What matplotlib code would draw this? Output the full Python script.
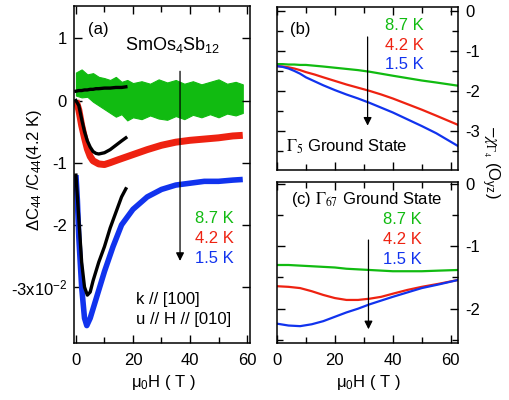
import matplotlib
matplotlib.use("Agg")
import matplotlib.pyplot as plt
import numpy as np
from matplotlib.ticker import MultipleLocator, FixedLocator, FixedFormatter

plt.rcParams['font.family'] = ['Liberation Sans', 'DejaVu Sans']
plt.rcParams['mathtext.fontset'] = 'custom'
plt.rcParams['mathtext.rm'] = 'Liberation Sans'
plt.rcParams['mathtext.it'] = 'Liberation Sans:italic'
plt.rcParams['mathtext.bf'] = 'Liberation Sans:bold'
plt.rcParams['font.size'] = 12

GREEN = '#11bb11'
RED = '#ee2211'
BLUE = '#1133ee'

# ---------------- panel (a): measured Delta C44 / C44 (x 1e-2) ----------------
a_green_H = [0, 2, 4, 6, 8, 10, 12, 14, 16, 18, 20, 23, 26, 29, 32, 35, 38, 41,
             44, 47, 50, 53, 56, 58.5]
a_green_hi = [0.45, 0.5, 0.42, 0.44, 0.38, 0.36, 0.33, 0.38, 0.3, 0.33, 0.28, 0.31,
              0.27, 0.34, 0.29, 0.33, 0.27, 0.31, 0.26, 0.3, 0.34, 0.27, 0.3, 0.26]
a_green_lo = [0.08, 0.05, 0.06, -0.02, -0.08, -0.14, -0.2, -0.26, -0.22, -0.32, -0.27,
              -0.3, -0.24, -0.29, -0.31, -0.25, -0.3, -0.23, -0.27, -0.22, -0.27, -0.21,
              -0.24, -0.2]

a_red_H = [0, 1, 2, 3, 4, 5, 6, 8, 10, 12, 15, 20, 25, 30, 35, 40, 45, 50, 55, 58.5]
a_red = [0.0, -0.15, -0.4, -0.6, -0.78, -0.9, -0.97, -1.02, -1.03, -1.0, -0.95,
         -0.87, -0.79, -0.72, -0.67, -0.64, -0.62, -0.6, -0.57, -0.56]

a_blue_H = [0, 0.5, 1, 2, 3, 3.8, 5, 7, 10, 13, 16, 20, 25, 30, 35, 40, 45, 50, 55, 58.5]
a_blue = [-1.2, -1.6, -2.2, -3.0, -3.5, -3.62, -3.5, -3.2, -2.75, -2.35, -2.0,
          -1.75, -1.55, -1.43, -1.36, -1.33, -1.3, -1.3, -1.28, -1.27]

fit_H = [0, 1, 2, 3, 4, 5, 6, 7, 8, 10, 12, 14, 16, 17.5]
fit_green = [0.15, 0.16, 0.16, 0.17, 0.17, 0.18, 0.18, 0.19, 0.19, 0.2, 0.2, 0.21, 0.21, 0.22]
fit_red = [0.0, -0.08, -0.3, -0.5, -0.65, -0.75, -0.82, -0.85, -0.86, -0.84, -0.79, -0.72, -0.65, -0.6]
fit_blue = [-1.2, -1.9, -2.6, -3.0, -3.13, -3.08, -2.9, -2.75, -2.6, -2.35, -2.05, -1.8, -1.55, -1.42]

# ---------------- panel (b): Gamma5 ground state ----------------
b_H = [0, 2, 4, 6, 8, 10, 13, 16, 20, 24, 28, 32, 36, 40, 45, 50, 55, 62.5]
b_green = [-1.33, -1.33, -1.34, -1.34, -1.35, -1.35, -1.37, -1.39, -1.42, -1.45,
           -1.48, -1.52, -1.57, -1.62, -1.68, -1.74, -1.79, -1.87]
b_red = [-1.38, -1.39, -1.41, -1.44, -1.48, -1.53, -1.59, -1.66, -1.75, -1.84,
         -1.92, -2.0, -2.09, -2.19, -2.33, -2.47, -2.62, -2.85]
b_blue = [-1.38, -1.40, -1.44, -1.5, -1.57, -1.66, -1.76, -1.86, -1.98, -2.09,
          -2.19, -2.3, -2.42, -2.54, -2.71, -2.88, -3.06, -3.38]

# ---------------- panel (c): Gamma67 ground state ----------------
c_H = [0, 4, 8, 12, 16, 20, 24, 28, 32, 36, 40, 45, 50, 56, 62.5]
c_green = [-1.30, -1.30, -1.31, -1.32, -1.33, -1.34, -1.36, -1.37, -1.38, -1.39,
           -1.40, -1.40, -1.40, -1.39, -1.38]
c_red = [-1.64, -1.65, -1.67, -1.72, -1.78, -1.83, -1.86, -1.86, -1.84, -1.81,
         -1.76, -1.70, -1.65, -1.6, -1.54]
c_blue = [-2.24, -2.27, -2.28, -2.25, -2.2, -2.13, -2.06, -2.0, -1.93, -1.87,
          -1.81, -1.74, -1.67, -1.61, -1.54]

temps = ['8.7 K', '4.2 K', '1.5 K']
colors = [GREEN, RED, BLUE]

fig = plt.figure(figsize=(5.1, 4.0), dpi=100)
axa = fig.add_axes([0.145, 0.1425, 0.345, 0.8425])
axb = fig.add_axes([0.543, 0.575, 0.355, 0.4075])
axc = fig.add_axes([0.543, 0.1425, 0.355, 0.4025])

def style(ax):
    for s in ax.spines.values():
        s.set_linewidth(1.1)
    ax.tick_params(which='both', direction='in', top=True, right=True, width=1.0)
    ax.tick_params(which='major', length=6)
    ax.tick_params(which='minor', length=4)
    ax.tick_params(axis='x', pad=7)

# ---- (a)
ax = axa
ax.fill_between(a_green_H, a_green_lo, a_green_hi, color=GREEN, lw=0.8, edgecolor=GREEN)
ax.plot(a_red_H, a_red, color=RED, lw=5, solid_capstyle='butt')
ax.plot(a_blue_H, a_blue, color=BLUE, lw=4, solid_capstyle='butt')
ax.plot(fit_H, fit_green, color='black', lw=2.4)
ax.plot(fit_H, fit_red, color='black', lw=2.4)
ax.plot(fit_H, fit_blue, color='black', lw=2.4)
ax.set_xlim(-0.7, 61)
ax.set_ylim(-3.9, 1.52)
style(ax)
ax.xaxis.set_major_locator(MultipleLocator(20))
ax.xaxis.set_minor_locator(MultipleLocator(10))
ax.yaxis.set_major_locator(FixedLocator([1, 0, -1, -2, -3]))
ax.yaxis.set_major_formatter(FixedFormatter(['1', '0', '-1', '-2', '-3x10$^{-2}$']))
ax.tick_params(axis='y', pad=5)
ax.annotate('', xy=(36.5, -2.58), xytext=(36.5, 0.47),
            arrowprops=dict(arrowstyle='-|>', color='black', lw=0.9,
                            mutation_scale=12, shrinkA=0, shrinkB=0))
ax.text(0.08, 0.93, '(a)', transform=ax.transAxes, ha='left', va='center')
ax.text(0.56, 0.885, 'SmOs$_4$Sb$_{12}$', transform=ax.transAxes, ha='center', va='center', fontsize=13)
for t, c, y in zip(temps, colors, [0.37, 0.31, 0.25]):
    ax.text(0.91, y, t, color=c, transform=ax.transAxes, ha='right', va='center')
ax.text(0.35, 0.13, 'k // [100]', transform=ax.transAxes, ha='left', va='center')
ax.text(0.35, 0.07, 'u // H // [010]', transform=ax.transAxes, ha='left', va='center')

# ---- (b)
ax = axb
for y, c in zip([b_green, b_red, b_blue], colors):
    ax.plot(b_H, y, color=c, lw=1.6)
ax.set_xlim(0, 62.5)
ax.set_ylim(-3.98, 0.1)
style(ax)
ax.xaxis.set_major_locator(MultipleLocator(20))
ax.xaxis.set_minor_locator(MultipleLocator(10))
ax.yaxis.set_minor_locator(MultipleLocator(0.5))
ax.tick_params(labelbottom=False, labelleft=False, labelright=True)
ax.yaxis.set_major_locator(FixedLocator([0, -1, -2, -3]))
ax.yaxis.set_major_formatter(FixedFormatter(['0', '-1', '-2', '-3']))
ax.tick_params(axis='y', pad=5)
ax.annotate('', xy=(31.3, -2.87), xytext=(31.3, -0.65),
            arrowprops=dict(arrowstyle='-|>', color='black', lw=0.9,
                            mutation_scale=12, shrinkA=0, shrinkB=0))
ax.text(0.07, 0.86, '(b)', transform=ax.transAxes, ha='left', va='center')
for t, c, y in zip(temps, colors, [0.885, 0.765, 0.645]):
    ax.text(0.81, y, t, color=c, transform=ax.transAxes, ha='right', va='center')
ax.text(0.05, 0.14, r'$\Gamma_5$ Ground State', transform=ax.transAxes, ha='left',
        va='center', math_fontfamily='stix')

# ---- (c)
ax = axc
for y, c in zip([c_green, c_red, c_blue], colors):
    ax.plot(c_H, y, color=c, lw=1.6)
ax.set_xlim(0, 62.5)
ax.set_ylim(-2.55, 0.03)
style(ax)
ax.xaxis.set_major_locator(MultipleLocator(20))
ax.xaxis.set_minor_locator(MultipleLocator(10))
ax.yaxis.set_major_locator(FixedLocator([0, -1, -2]))
ax.yaxis.set_major_formatter(FixedFormatter(['0', '-1', '-2']))
ax.yaxis.set_minor_locator(MultipleLocator(0.5))
ax.tick_params(labelleft=False, labelright=True)
ax.tick_params(axis='y', pad=5)
ax.annotate('', xy=(31.6, -2.33), xytext=(31.6, -0.9),
            arrowprops=dict(arrowstyle='-|>', color='black', lw=0.9,
                            mutation_scale=12, shrinkA=0, shrinkB=0))
ax.text(0.077, 0.89, r'(c) $\Gamma_{67}$ Ground State', transform=ax.transAxes, ha='left',
        va='center', math_fontfamily='stix')
for t, c, y in zip(temps, colors, [0.77, 0.64, 0.52]):
    ax.text(0.8, y, t, color=c, transform=ax.transAxes, ha='right', va='center')

# axis labels
fig.text(35/510, 1-170/400, r'$\Delta$C$_{44}$ /C$_{44}$(4.2 K)', rotation=90,
         ha='center', va='center')
fig.text(490/510, 1-162/400, r'$-\chi_{\Gamma_4}$ (O$_\mathregular{yz}$)', rotation=270,
         ha='center', va='center', math_fontfamily='stix')
fig.text(163/510, 1-383/400, r'μ$_0$H ( T )', ha='center', va='center')
fig.text(368/510, 1-383/400, r'μ$_0$H ( T )', ha='center', va='center')

fig.savefig('out.png', dpi=100)
